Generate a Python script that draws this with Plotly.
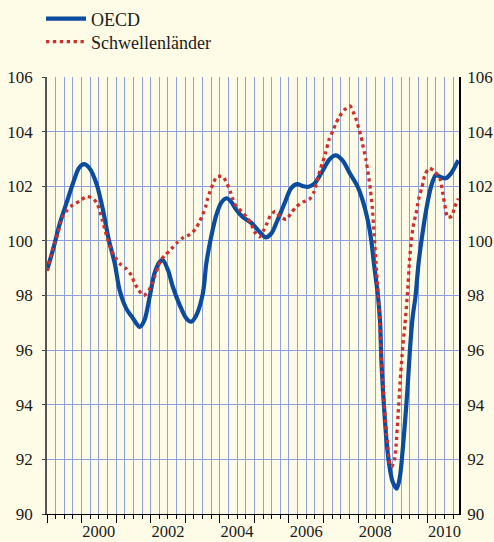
import plotly.graph_objects as go

# decimal-year positions and index values
oecd_x = [1999.0, 1999.17, 1999.37, 1999.56, 1999.75, 1999.92, 2000.07, 2000.23, 2000.43, 2000.62,
          2000.79, 2000.96, 2001.1, 2001.29, 2001.49, 2001.68, 2001.82, 2001.97, 2002.11, 2002.26,
          2002.35, 2002.5, 2002.64, 2002.84, 2003.03, 2003.17, 2003.32, 2003.51, 2003.61, 2003.75,
          2003.9, 2004.04, 2004.2, 2004.33, 2004.47, 2004.66, 2004.91, 2005.1, 2005.32, 2005.49,
          2005.65, 2005.87, 2006.06, 2006.23, 2006.42, 2006.57, 2006.74, 2006.93, 2007.17, 2007.35,
          2007.55, 2007.75, 2007.99, 2008.13, 2008.28, 2008.38, 2008.47, 2008.57, 2008.64, 2008.67,
          2008.72, 2008.77, 2008.83, 2008.91, 2009.0, 2009.12, 2009.21, 2009.29, 2009.37, 2009.44,
          2009.5, 2009.58, 2009.66, 2009.75, 2009.85, 2009.97, 2010.11, 2010.25, 2010.4, 2010.54,
          2010.69, 2010.78, 2010.9]
oecd_y = [98.93, 99.66, 100.64, 101.37, 102.1, 102.66, 102.81, 102.66, 102.1, 101.13,
          100.03, 99.18, 98.2, 97.53, 97.16, 96.85, 97.1, 97.95, 98.81, 99.23,
          99.3, 98.93, 98.32, 97.65, 97.16, 97.04, 97.28, 98.08, 99.18, 100.15,
          100.95, 101.4, 101.56, 101.43, 101.15, 100.88, 100.66, 100.4, 100.13, 100.27,
          100.7, 101.37, 101.92, 102.08, 102.0, 101.98, 102.1, 102.47, 102.98, 103.13,
          102.95, 102.5, 101.98, 101.49, 100.76, 100.03, 99.05, 98.05, 96.98, 95.75,
          94.53, 93.56, 92.58, 91.73, 91.18, 90.93, 91.36, 92.34, 93.56, 94.78,
          96.0, 97.22, 97.95, 99.18, 100.15, 101.13, 101.98, 102.41, 102.33, 102.29,
          102.47, 102.66, 102.95]

em_x = [1999.0, 1999.17, 1999.32, 1999.44, 1999.58, 1999.73, 1999.95, 2000.14, 2000.33, 2000.46,
        2000.6, 2000.72, 2000.86, 2000.97, 2001.12, 2001.29, 2001.44, 2001.53, 2001.65, 2001.8,
        2001.95, 2002.06, 2002.13, 2002.21, 2002.29, 2002.43, 2002.6, 2002.76, 2002.93, 2003.14,
        2003.3, 2003.41, 2003.51, 2003.59, 2003.65, 2003.72, 2003.8, 2003.91, 2004.09, 2004.21,
        2004.3, 2004.38, 2004.47, 2004.64, 2004.78, 2004.91, 2005.0, 2005.15, 2005.26, 2005.37,
        2005.46, 2005.6, 2005.75, 2005.92, 2006.07, 2006.21, 2006.4, 2006.59, 2006.72, 2006.79,
        2006.85, 2006.91, 2006.98, 2007.05, 2007.17, 2007.27, 2007.36, 2007.46, 2007.6, 2007.77,
        2007.87, 2007.96, 2008.02, 2008.09, 2008.13, 2008.18, 2008.23, 2008.3, 2008.36, 2008.41,
        2008.46, 2008.52, 2008.58, 2008.62, 2008.68, 2008.73, 2008.81, 2008.86, 2008.91, 2008.97,
        2009.05, 2009.1, 2009.16, 2009.22, 2009.27, 2009.31, 2009.36, 2009.43, 2009.49, 2009.53,
        2009.58, 2009.63, 2009.68, 2009.72, 2009.77, 2009.84, 2009.94, 2010.06, 2010.23, 2010.38,
        2010.45, 2010.51, 2010.59, 2010.72, 2010.78, 2010.9]
em_y = [98.9, 99.73, 100.3, 100.85, 101.12, 101.3, 101.46, 101.62, 101.56, 101.34,
        100.76, 100.21, 99.66, 99.4, 99.15, 98.98, 98.74, 98.47, 98.2, 98.0,
        98.2, 98.47, 98.74, 99.03, 99.3, 99.49, 99.71, 99.93, 100.11, 100.24,
        100.44, 100.7, 100.98, 101.25, 101.56, 101.82, 102.08, 102.35, 102.35, 102.09,
        101.81, 101.53, 101.27, 101.07, 100.86, 100.62, 100.33, 100.15, 100.37, 100.66,
        100.92, 101.08, 100.88, 100.79, 101.03, 101.25, 101.42, 101.52, 101.78, 102.07,
        102.35, 102.63, 102.9, 103.18, 103.75, 104.02, 104.3, 104.55, 104.79, 104.94,
        104.69, 104.39, 104.12, 103.81, 103.55, 103.26, 102.96, 102.41, 101.84, 101.25,
        100.33, 99.18, 98.01, 97.16, 95.39, 94.53, 93.07, 92.46, 91.87, 91.73,
        91.97, 92.52, 93.68, 94.9, 95.75, 96.37, 96.98, 98.1, 99.3, 99.88,
        100.42, 100.76, 101.0, 101.31, 101.62, 101.92, 102.44, 102.66, 102.53, 102.23,
        101.74, 101.31, 100.86, 100.91, 101.19, 101.55]

year_ticks = list(range(1999, 2011))
label_pos = [2000.5, 2002.5, 2004.5, 2006.5, 2008.5, 2010.5]
label_text = ["2000", "2002", "2004", "2006", "2008", "2010"]
y_ticks = [90, 92, 94, 96, 98, 100, 102, 104, 106]

X_RANGE = [1999.0, 2010.92]
Y_RANGE = [90, 106]
BG = "#fefce6"
GRID = "#8ea1de"
FONT = "Liberation Serif"

fig = go.Figure()
fig.add_trace(go.Scatter(
    x=oecd_x, y=oecd_y, name="OECD", mode="lines", legend="legend",
    line=dict(color="#0b4c9e", width=4.2, shape="spline", smoothing=0.8),
    xaxis="x", yaxis="y"))
fig.add_trace(go.Scatter(
    x=em_x, y=em_y, name="Schwellenländer", mode="lines", legend="legend2",
    line=dict(color="#cf2f2a", width=3.3, dash="3.3px,3.6px", shape="spline", smoothing=0.6),
    xaxis="x2", yaxis="y2"))

leg_common = dict(xref="container", yref="container", xanchor="left", yanchor="middle",
                  bgcolor="rgba(0,0,0,0)", font=dict(family=FONT, size=18),
                  itemwidth=40, borderwidth=0)

fig.update_layout(
    width=494, height=542,
    paper_bgcolor=BG, plot_bgcolor=BG,
    margin=dict(l=47, r=35, t=77, b=28, autoexpand=False),
    font=dict(family=FONT, size=17, color="#1a1a1a"),
    showlegend=True,
    legend=dict(x=41 / 494, y=1 - 19 / 542, **leg_common),
    legend2=dict(x=41 / 494, y=1 - 42 / 542, **leg_common),
    xaxis=dict(range=X_RANGE, tickmode="array", tickvals=year_ticks, showticklabels=False,
               ticks="outside", ticklen=8, tickwidth=1.3, tickcolor="black",
               showgrid=True, gridcolor=GRID, gridwidth=1,
               showline=True, linecolor="black", linewidth=1, zeroline=False,
               minor=dict(tickmode="linear", tick0=1999, dtick=0.25, ticks="outside", ticklen=4,
                          tickcolor="black", tickwidth=1, showgrid=True, gridcolor=GRID, gridwidth=1),
               fixedrange=True, automargin=False),
    xaxis2=dict(range=X_RANGE, overlaying="x", anchor="y", side="bottom",
                tickmode="array", tickvals=label_pos, ticktext=label_text, tickangle=0,
                ticks="", ticklabelstandoff=5, showgrid=False, showline=False, zeroline=False,
                tickfont=dict(family=FONT, size=16.5), fixedrange=True, automargin=False),
    yaxis=dict(range=Y_RANGE, tickmode="array", tickvals=y_ticks,
               ticks="outside", ticklen=3, tickcolor="#444", ticklabelstandoff=6,
               showgrid=True, gridcolor=GRID, gridwidth=1,
               showline=True, linecolor="#555", linewidth=1.5, zeroline=False,
               tickfont=dict(family=FONT, size=17), fixedrange=True, automargin=False),
    yaxis2=dict(range=Y_RANGE, overlaying="y", anchor="x", side="right",
                tickmode="array", tickvals=y_ticks,
                ticks="", ticklabelstandoff=3,
                showgrid=False, showline=True, linecolor="black", linewidth=1.5, zeroline=False,
                tickfont=dict(family=FONT, size=17), fixedrange=True, automargin=False),
)

fig.write_html(
    "out.html",
    config={"displayModeBar": False},
    post_script="document.body.style.margin='0';document.body.style.overflow='hidden';"
                "document.body.style.background='#fefce6';",
)
